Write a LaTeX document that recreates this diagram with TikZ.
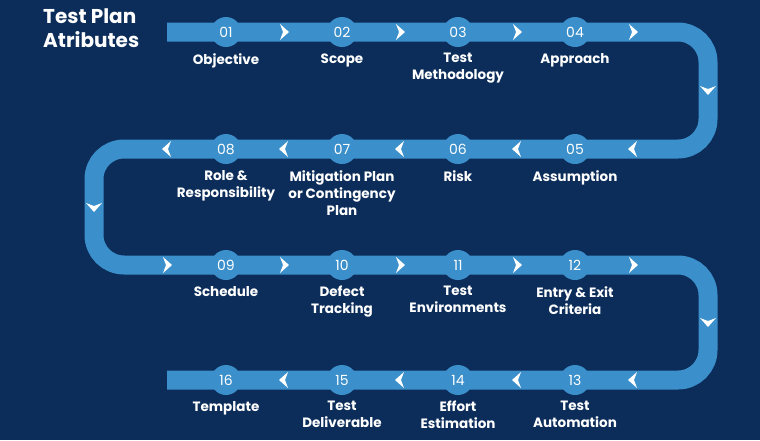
\documentclass[tikz,border=0pt]{standalone}
\usepackage{fontspec}
\setmainfont{Poppins}
\usetikzlibrary{positioning}
\definecolor{navy}{HTML}{0C2D5A}
\definecolor{band}{HTML}{3B8FCB}
\tikzset{
  stepdot/.style={circle, fill=band, minimum size=30pt, inner sep=0pt, text=white, font=\fontsize{14}{14}\selectfont},
  steplabel/.style={text=white, font=\fontsize{13.5}{17}\bfseries\selectfont, align=center, inner sep=0pt},
  chev/.pic={\fill[white] (-4,-8) -- (5,0) -- (-4,8) -- (-1,0) -- cycle;}
}
\begin{document}
\begin{tikzpicture}[x=1pt, y=-1pt]
  \fill[navy] (0,0) rectangle (760,440);
  \useasboundingbox (0,0) rectangle (760,440);

  % Titel
  \node[text=white, font=\fontsize{20}{24}\bfseries\selectfont, align=left, anchor=north west, inner sep=0pt] (title) at (43,8) {Test Plan\\Atributes};

  % Band
  \draw[band, line width=19pt, rounded corners=30pt]
    (167,32) -- (708,32) -- (708,149) -- (94,149) -- (94,265) -- (708,265) -- (708,380) -- (167,380);

  % Pfeile auf dem Band
  \foreach \x in {284,400,517,633} {
    \pic at (\x,32) {chev};
    \pic[rotate=180] at (\x,149) {chev};
    \pic at (\x,265) {chev};
    \pic[rotate=180] at (\x,380) {chev};
  }
  \pic[rotate=180] at (167,149) {chev};
  \pic at (167,265) {chev};
  \pic[rotate=-90] at (708,90) {chev};
  \pic[rotate=-90] at (708,322) {chev};
  \pic[rotate=-90] at (94,207) {chev};

  % Schritte
  \foreach \n/\x/\y/\t in {
    01/226/32/Objective, 02/342/32/Scope, 03/458/32/{Test\\Methodology}, 04/575/32/Approach,
    05/575/149/Assumption, 06/458/149/Risk, 07/342/149/{Mitigation Plan\\or Contingency\\Plan}, 08/226/149/{Role \&\\Responsibility},
    09/226/265/Schedule, 10/342/265/{Defect\\Tracking}, 11/458/265/{Test\\Environments}, 12/575/265/{Entry \& Exit\\Criteria},
    13/575/380/{Test\\Automation}, 14/458/380/{Effort\\Estimation}, 15/342/380/{Test\\Deliverable}, 16/226/380/Template} {
    \node[stepdot] (c\n) at (\x,\y) {\n};
    \node[steplabel, below=6pt of c\n] (l\n) {\t};
  }
\end{tikzpicture}
\end{document}
